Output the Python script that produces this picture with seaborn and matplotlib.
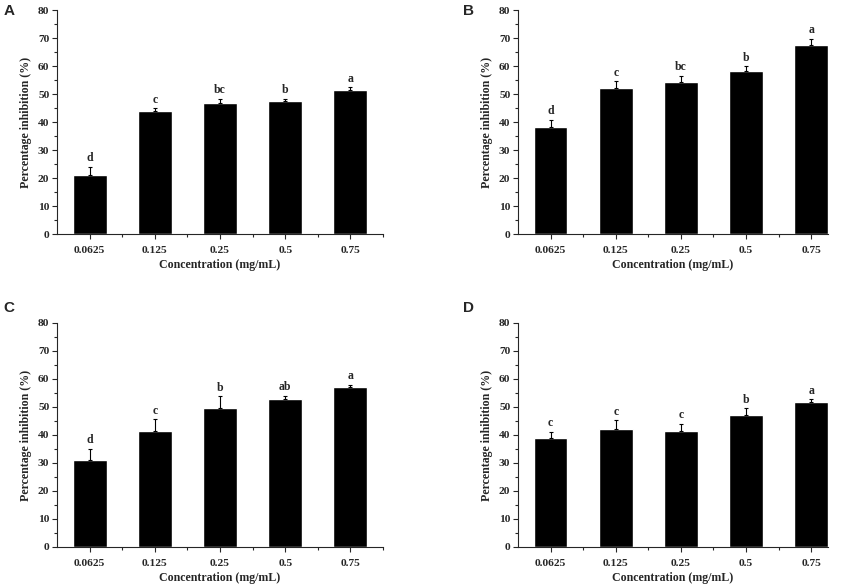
import numpy as np
import pandas as pd
import matplotlib
matplotlib.use("Agg")
import matplotlib.pyplot as plt
import seaborn as sns
from matplotlib.ticker import MultipleLocator, FixedLocator

# data
conc = ["0.0625", "0.125", "0.25", "0.5", "0.75"]

a_mean = [21.1, 43.9, 46.7, 47.4, 51.3]
a_err = [2.9, 1.0, 1.5, 0.9, 1.1]
a_letters = ["d", "c", "bc", "b", "a"]

b_mean = [38.3, 52.0, 54.3, 58.2, 67.6]
b_err = [2.5, 2.5, 2.2, 1.7, 2.0]
b_letters = ["d", "c", "bc", "b", "a"]

c_mean = [31.0, 41.5, 49.8, 52.7, 57.0]
c_err = [4.0, 4.1, 4.0, 1.4, 0.9]
c_letters = ["d", "c", "b", "ab", "a"]

d_mean = [38.8, 42.0, 41.4, 47.1, 51.7]
d_err = [2.4, 3.2, 2.5, 2.4, 1.0]
d_letters = ["c", "c", "c", "b", "a"]

sns.set_style("ticks")
plt.rcParams["font.family"] = ["Liberation Serif", "DejaVu Serif"]
plt.rcParams["font.weight"] = "bold"
plt.rcParams["axes.linewidth"] = 0.8


# bar panel function
def bar_panel(ax, means, errs, letters, xmax=4.5):
    """
    Bar plot one panel with upper error bars and letters.
    """
    df = pd.DataFrame({"conc": conc, "inhib": means})
    sns.barplot(data=df, x="conc", y="inhib", order=conc, color="black",
                width=0.52, saturation=1, errorbar=None, ax=ax)
    x = np.arange(len(conc))
    ax.errorbar(x, means, yerr=[np.zeros(len(errs)), errs], fmt="none",
                ecolor="black", elinewidth=0.8, capsize=1.6, capthick=0.8)
    for xi, m, e, lab in zip(x, means, errs, letters):
        ax.annotate(lab, (xi, m + e), xytext=(0, 2), textcoords="offset points",
                    ha="center", va="bottom", fontsize=8.5, fontweight="bold")
    ax.set_xlim(-0.5, xmax)
    ax.set_ylim(0, 80)
    ax.yaxis.set_major_locator(MultipleLocator(10))
    ax.yaxis.set_minor_locator(MultipleLocator(5))
    ax.xaxis.set_minor_locator(FixedLocator(x + 0.5))
    ax.set_xlabel("Concentration (mg/mL)", fontsize=8.6, fontweight="bold", labelpad=3)
    ax.set_ylabel("Percentage inhibition (%)", fontsize=8.6, fontweight="bold", labelpad=4)
    ax.tick_params(axis="both", which="major", labelsize=8.2, length=3.5, width=0.8, pad=2)
    ax.tick_params(axis="both", which="minor", length=2, width=0.8)
    ax.tick_params(axis="x", which="major", pad=5)
    sns.despine(ax=ax)


fig = plt.figure(figsize=(8.51, 5.88), dpi=100)
W, H = 851, 588
ax_a = fig.add_axes([57 / W, 1 - 234 / H, 326 / W, 224 / H])
ax_b = fig.add_axes([518 / W, 1 - 234 / H, 310 / W, 224 / H])
ax_c = fig.add_axes([57 / W, 1 - 547 / H, 326 / W, 224 / H])
ax_d = fig.add_axes([518 / W, 1 - 547 / H, 310 / W, 224 / H])

bar_panel(ax_a, a_mean, a_err, a_letters)
bar_panel(ax_b, b_mean, b_err, b_letters, xmax=4.26)
bar_panel(ax_c, c_mean, c_err, c_letters)
bar_panel(ax_d, d_mean, d_err, d_letters, xmax=4.26)

for tag, px, py in [("A", 9, 11), ("B", 469, 11), ("C", 9, 308), ("D", 469, 308)]:
    fig.text(px / W, 1 - py / H, tag, family=["Liberation Sans", "DejaVu Sans"],
             fontweight="bold", fontsize=11, ha="center", va="center")

fig.savefig("out.png", dpi=100)
